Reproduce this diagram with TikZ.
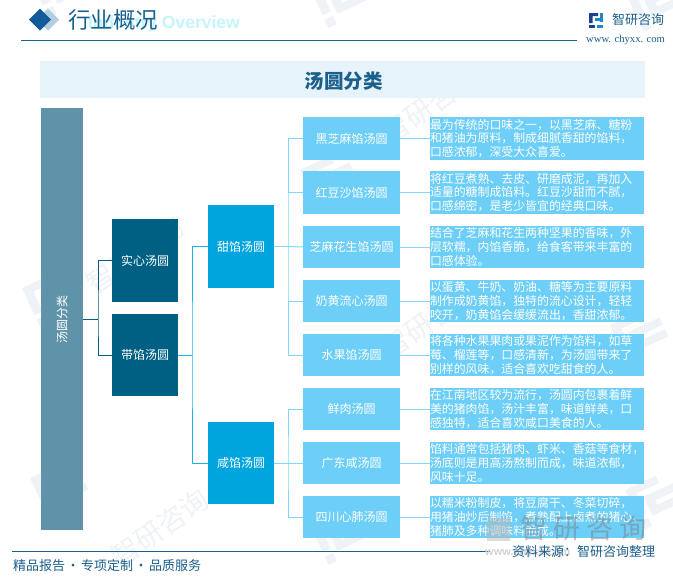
\documentclass[tikz,border=0pt]{standalone}
\usepackage{fontspec}
\setmainfont{Noto Sans CJK SC}
\setsansfont{Liberation Sans}
\newfontfamily\sitefont{Liberation Serif}
\definecolor{rootc}{HTML}{5F93A9}
\definecolor{darkc}{HTML}{006084}
\definecolor{midc}{HTML}{00A5DE}
\definecolor{lightc}{HTML}{6DCEF7}
\definecolor{bandc}{HTML}{E6F3FB}
\definecolor{titlec}{HTML}{1B5F8C}
\definecolor{rulec}{HTML}{15648F}
\definecolor{markc}{HTML}{EFF3F7}
\definecolor{navyc}{HTML}{1F3F8F}
\definecolor{logoc}{HTML}{1E88C8}
\definecolor{linkbc}{HTML}{19B5E8}
\definecolor{linkcc}{HTML}{7FD8FA}
\tikzset{
 box/.style={inner sep=0pt,outer sep=0pt,text=white,align=center,font=\fontsize{12}{14}\selectfont},
 rootbox/.style={box,fill=rootc,minimum width=42pt,minimum height=422pt},
 kindbox/.style={box,fill=darkc,minimum width=66pt,minimum height=83pt},
 tastebox/.style={box,fill=midc,minimum width=66pt,minimum height=83pt},
 itembox/.style={box,fill=lightc,minimum width=97pt,minimum height=42.5pt},
 descbox/.style={box,fill=lightc,minimum width=214pt,minimum height=42.5pt,text width=214pt,align=left,font=\fontsize{11.9}{13.8}\selectfont},
 linka/.style={draw=darkc,line width=1pt},
 linkb/.style={draw=linkbc,line width=1pt},
 linkc/.style={draw=linkcc,line width=1pt},
 faint/.style={inner sep=0pt,text=markc,font=\fontsize{28}{28}\selectfont},
}
\newcommand{\wmark}[2]{%
 \begin{scope}[shift={(#1,#2)},rotate=25,fill=markc]
  \fill (0,0) -- (34,0) -- (34,8) -- (9,8) -- (9,30) -- (0,30) -- cycle;
  \fill (0,35) rectangle (9,44);
  \fill (14,14) -- (48,14) -- (48,22) -- (23,22) -- (23,27) -- (48,27) -- (48,35) -- (14,35) -- cycle;
 \end{scope}}
\begin{document}
\begin{tikzpicture}[x=1pt,y=-1pt]
\useasboundingbox (0,0) rectangle (673,579);
\fill[white] (0,0) rectangle (673,579);
% faint background marks
\wmark{310}{-12}
\wmark{30}{-22}
\wmark{625}{-8}
\wmark{22}{288}
\wmark{300}{170}
\wmark{610}{325}
\wmark{30}{478}
\wmark{625}{490}
\wmark{310}{525}
\node[faint,rotate=35] at (135,255) {智研咨询};
\node[faint,rotate=35] at (430,105) {智研咨询};
\node[faint,rotate=35] at (430,320) {智研咨询};
\node[faint,rotate=35] at (160,528) {智研咨询};
% header
\node[inner sep=0pt,anchor=east,text=bandc!85!cyan,font=\sffamily\bfseries\fontsize{17.5}{18}\selectfont] (wm) at (240,24) {Industry Overview};
\fill[bandc!75!rulec] (48,8.5) -- (59,19.5) -- (48,30.5) -- (37,19.5) -- cycle;
\fill[rulec!90!blue] (40,8.5) -- (51,19.5) -- (40,30.5) -- (29,19.5) -- cycle;
\node[inner sep=0pt,anchor=west,text=titlec,font=\fontsize{22.5}{23}\selectfont] (head) at (68,20) {行业概况};
\draw[rulec,line width=1pt] (21,40.5) -- (577,40.5);
% logo
\fill[navyc] (589,13) -- (598,13) -- (598,16) -- (592.5,16) -- (592.5,23) -- (589,23) -- cycle;
\fill[navyc] (589,24.5) rectangle (595,28);
\fill[logoc] (600,13) rectangle (603,22);
\fill[logoc] (594.5,18) rectangle (603,21);
\fill[logoc] (597,24.5) rectangle (603,28);
\node[inner sep=0pt,anchor=west,text=titlec,font=\fontsize{13}{13}\selectfont] (brand) at (612,20) {智研咨询};
\node[inner sep=0pt,anchor=west,text=titlec,font=\sitefont\fontsize{10.6}{11}\selectfont] (site) at (586,40) {www. chyxx. com};
% band
\fill[bandc] (40,61) rectangle (645,98);
\node[inner sep=0pt,text=titlec,font=\fontsize{19.5}{20}\selectfont\bfseries] (title) at (343.5,81) {汤圆分类};
% boxes
\node[rootbox] (root) at (62,319) {\rotatebox{90}{汤圆分类}};
\node[kindbox] (k1) at (145,260.5) {实心汤圆};
\node[kindbox,minimum height=82pt] (k2) at (145,355) {带馅汤圆};
\node[tastebox] (t1) at (241,246.5) {甜馅汤圆};
\node[tastebox,minimum height=82pt] (t2) at (241,463) {咸馅汤圆};
\node[itembox] (i1) at (351.5,138.5) {黑芝麻馅汤圆};
\node[itembox] (i2) at (351.5,192.5) {红豆沙馅汤圆};
\node[itembox] (i3) at (351.5,247) {芝麻花生馅汤圆};
\node[itembox] (i4) at (351.5,301) {奶黄流心汤圆};
\node[itembox] (i5) at (351.5,355) {水果馅汤圆};
\node[itembox] (i6) at (351.5,409) {鲜肉汤圆};
\node[itembox] (i7) at (351.5,463) {广东咸汤圆};
\node[itembox] (i8) at (351.5,517) {四川心肺汤圆};
\node[descbox] (d1) at (537,138.5) {最为传统的口味之一，以黑芝麻、糖粉\\和猪油为原料，制成细腻香甜的馅料，\\口感浓郁，深受大众喜爱。};
\node[descbox] (d2) at (537,192.5) {将红豆煮熟、去皮、研磨成泥，再加入\\适量的糖制成馅料。红豆沙甜而不腻，\\口感绵密，是老少皆宜的经典口味。};
\node[descbox] (d3) at (537,247) {结合了芝麻和花生两种坚果的香味，外\\层软糯，内馅香脆，给食客带来丰富的\\口感体验。};
\node[descbox] (d4) at (537,301) {以蛋黄、牛奶、奶油、糖等为主要原料\\制作成奶黄馅，独特的流心设计，轻轻\\咬开，奶黄馅会缓缓流出，香甜浓郁。};
\node[descbox] (d5) at (537,355) {将各种水果果肉或果泥作为馅料，如草\\莓、榴莲等，口感清新，为汤圆带来了\\别样的风味，适合喜欢吃甜食的人。};
\node[descbox] (d6) at (537,409) {在江南地区较为流行，汤圆内包裹着鲜\\美的猪肉馅，汤汁丰富，味道鲜美，口\\感独特，适合喜欢咸口美食的人。};
\node[descbox] (d7) at (537,463) {馅料通常包括猪肉、虾米、香菇等食材，\\汤底则是用高汤熬制而成，味道浓郁，\\风味十足。};
\node[descbox] (d8) at (537,517) {以糯米粉制皮，将豆腐干、冬菜切碎，\\用猪油炒后制馅，煮熟配上卤煮的猪心、\\猪肺及多种调味料而成。};
% connectors
\coordinate (h1) at (98,319);
\coordinate (h2) at (192,355);
\coordinate (h3) at (288,246.5);
\coordinate (h4) at (288,463);
\draw[linka] (root.east) -- (h1);
\draw[linka] (k1.west) -| (h1) |- (k2.west);
\draw[linkb] (k2.east) -- (h2);
\draw[linkb] (t1.west) -| (h2) |- (t2.west);
\draw[linkc] (t1.east) -- (h3);
\draw[linkc] (i1.west) -| (h3) |- (i5.west);
\draw[linkc] (h3) -- (i3.west);
\draw[linkc] (i2.west) -- (h3 |- i2.west);
\draw[linkc] (i4.west) -- (h3 |- i4.west);
\draw[linkc] (t2.east) -- (h4);
\draw[linkc] (i6.west) -| (h4) |- (i8.west);
\draw[linkc] (h4) -- (i7.west);
\foreach \n in {1,...,8}{\draw[linkc] (i\n.east) -- (d\n.west);}
% footer
\draw[titlec,line width=1pt] (12,551) -- (490,551);
\fill[gray!55,opacity=.5] (487,518) rectangle (510,541);
\node[inner sep=0pt,anchor=west,text=gray,opacity=.5,font=\fontsize{27}{27}\selectfont] (mark) at (520,528) {\makebox[33pt][l]{智}\makebox[33pt][l]{研}\makebox[33pt][l]{咨}询};
\node[inner sep=0pt,anchor=west,text=gray!35,font=\sffamily\bfseries\fontsize{11}{11}\selectfont] (markurl) at (485,553) {www.chyxx.com};
\node[inner sep=0pt,anchor=west,text=titlec,font=\fontsize{13}{13}\selectfont] (src) at (512,552) {资料来源：智研咨询整理};
\node[inner sep=0pt,anchor=west,text=titlec,font=\fontsize{13}{13}\selectfont] (foot) at (13,566) {精品报告\makebox[16pt][c]{·}专项定制\makebox[16pt][c]{·}品质服务};
\end{tikzpicture}
\end{document}
